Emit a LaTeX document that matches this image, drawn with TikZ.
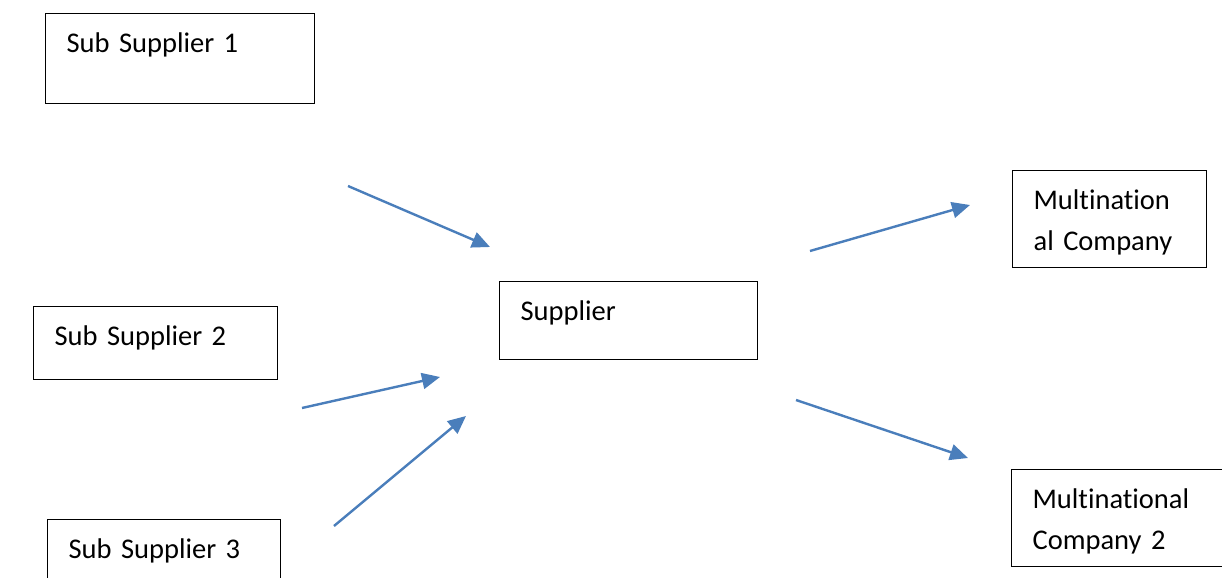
\documentclass[tikz,border=0pt]{standalone}
\usepackage{fontspec}
\setmainfont{Carlito}[Ligatures = NoCommon]
\usepackage{xcolor}
\usetikzlibrary{arrows.meta}
\definecolor{arrowblue}{HTML}{4A7EBB}

\begin{document}
\begin{tikzpicture}[x = 0.5pt, y = -0.5pt, font = \fontsize{14.25}{20.5}\selectfont,
		box/.style = {draw, line width = 0.6pt, anchor = north west, inner xsep = 10.5pt, inner ysep = 0pt, align = left, text height = 19.5pt},
		link/.style = {draw = arrowblue, line width = 1.2pt, -{Triangle[length = 9pt, width = 8pt]}}]
		\clip (0,0) rectangle (1222,578);
		\node[box, text width = 113.5pt, text depth = 25.5pt] (ss1) at (45,13) {Sub Supplier 1};
		\node[box, text width = 101pt, text depth = 17pt] (ss2) at (33,306) {Sub Supplier 2};
		\node[box, text width = 95.5pt, text depth = 25.5pt] (ss3) at (47,519) {Sub Supplier 3};
		\node[box, text width = 108pt, text depth = 19.5pt] (sup) at (499,281) {Supplier};
		\node[box, text width = 76pt, text depth = 29pt] (mc1) at (1012,170) {Multination\\al Company};
		\node[box, text width = 94pt, text depth = 29pt] (mc2) at (1011,469) {Multinational\\Company 2};
		\coordinate (s1) at (348,186);
		\coordinate (t1) at (490,247);
		\coordinate (s2) at (302,408);
		\coordinate (t2) at (440,377);
		\coordinate (s3) at (334,526);
		\coordinate (t3) at (466,416);
		\coordinate (s4) at (810,251);
		\coordinate (t4) at (970,205);
		\coordinate (s5) at (796,400);
		\coordinate (t5) at (968,458);
		\draw [link] (s1) -- (t1);
		\draw [link] (s2) -- (t2);
		\draw [link] (s3) -- (t3);
		\draw [link] (s4) -- (t4);
		\draw [link] (s5) -- (t5);
	\end{tikzpicture}
\end{document}
